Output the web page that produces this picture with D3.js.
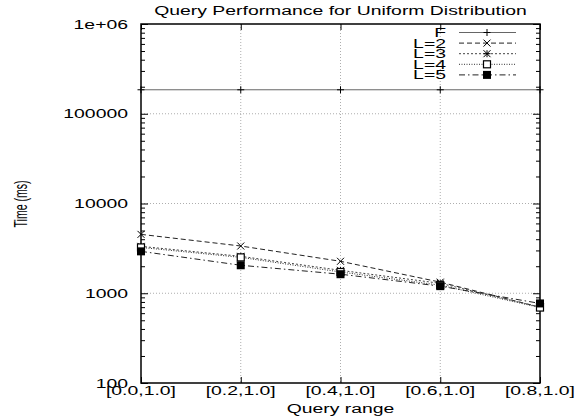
<!DOCTYPE html>
<html><head><meta charset="utf-8">
<script src="https://cdn.jsdelivr.net/npm/d3@7"></script>
<style>body{margin:0;background:#fff}svg{display:block}text{font-family:"Liberation Sans",Arial,sans-serif;fill:#000}</style>
</head><body><svg id="c" width="576" height="419"></svg>
<script>
const categories = ["[0.0,1.0]","[0.2,1.0]","[0.4,1.0]","[0.6,1.0]","[0.8,1.0]"];
const seriesNames = ["F","L=2","L=3","L=4","L=5"];
const valuesF  = [185000,185000,185000,185000,185000];
const valuesL2 = [4530,3360,2270,1330,700];
const valuesL3 = [3330,2580,1800,1290,700];
const valuesL4 = [3240,2510,1725,1230,693];
const valuesL5 = [2930,2050,1630,1200,770];
const yTickValues = [100,1000,10000,100000,1000000];
const yTickLabels = ["100","1000","10000","100000","1e+06"];
const titleText = "Query Performance for Uniform Distribution";
const xLabelText = "Query range";
const yLabelText = "Time (ms)";

const W=576,H=419, m={l:141,r:36,t:24,b:36};
const FS=12.5, SX=1.55;
const svg=d3.select("#c");
const x=d3.scalePoint().domain(categories).range([m.l,W-m.r]);
const y=d3.scaleLog().domain([100,1000000]).range([H-m.b,m.t]);
const cx0=(m.l+W-m.r)/2;
function stretch(sel,f){sel.each(function(){const w=this.getComputedTextLength();d3.select(this).attr("textLength",w*(f||SX)).attr("lengthAdjust","spacingAndGlyphs");});}

// grid
const g=svg.append("g");
g.selectAll("line.gx").data(categories.slice(1,-1)).join("line")
 .attr("x1",d=>x(d)).attr("x2",d=>x(d)).attr("y1",m.t).attr("y2",H-m.b)
 .attr("stroke","#999").attr("stroke-width",0.8).attr("stroke-dasharray","1,2");
g.selectAll("line.gy").data(yTickValues.slice(1,-1)).join("line")
 .attr("x1",m.l).attr("x2",W-m.r).attr("y1",d=>y(d)).attr("y2",d=>y(d))
 .attr("stroke","#999").attr("stroke-width",0.8).attr("stroke-dasharray","1,2");

// ticks
const minor=[];for(let e=2;e<6;e++)for(let k=2;k<10;k++)minor.push(k*Math.pow(10,e));
function yax(side){
  const mk=side==="l"?d3.axisRight:d3.axisLeft;
  const tx=side==="l"?m.l:W-m.r;
  svg.append("g").attr("transform",`translate(${tx},0)`).call(mk(y).tickValues(yTickValues).tickSize(7).tickFormat(""));
  svg.append("g").attr("transform",`translate(${tx},0)`).call(mk(y).tickValues(minor).tickSize(4).tickFormat(""));
}
yax("l");yax("r");
svg.append("g").attr("transform",`translate(0,${H-m.b})`).call(d3.axisTop(x).tickSize(6).tickFormat(""));
svg.append("g").attr("transform",`translate(0,${m.t})`).call(d3.axisBottom(x).tickSize(6).tickFormat(""));
svg.selectAll(".domain").remove();
svg.selectAll(".tick line").attr("stroke","#000").attr("stroke-width",1);

// border
svg.append("rect").attr("x",m.l).attr("y",m.t).attr("width",W-m.l-m.r).attr("height",H-m.t-m.b)
 .attr("fill","none").attr("stroke","#000").attr("stroke-width",1.5);

// tick labels
svg.append("g").selectAll("text").data(yTickValues).join("text")
 .attr("x",128).attr("y",d=>y(d)+4.5).attr("text-anchor","end").attr("font-size",FS)
 .text((d,i)=>yTickLabels[i]).call(stretch);
svg.append("g").selectAll("text").data(categories).join("text")
 .attr("x",d=>x(d)).attr("y",395).attr("text-anchor","middle").attr("font-size",FS)
 .text(d=>d).call(stretch);
svg.append("text").attr("x",cx0).attr("y",413).attr("text-anchor","middle").attr("font-size",FS).text(xLabelText).call(stretch);
svg.append("text").attr("x",cx0).attr("y",15).attr("text-anchor","middle").attr("font-size",FS).text(titleText).call(stretch);
svg.append("text").attr("transform","translate(27,204) rotate(-90)").attr("text-anchor","middle").attr("font-size",18)
 .text(yLabelText).attr("textLength",47).attr("lengthAdjust","spacingAndGlyphs");

// series
const series=[
 {name:seriesNames[0],v:valuesF,stroke:"#666",dash:null,mk:"plus"},
 {name:seriesNames[1],v:valuesL2,stroke:"#222",dash:"5,3",mk:"x"},
 {name:seriesNames[2],v:valuesL3,stroke:"#444",dash:"2,2",mk:"star"},
 {name:seriesNames[3],v:valuesL4,stroke:"#333",dash:"1,1.5",mk:"osq"},
 {name:seriesNames[4],v:valuesL5,stroke:"#222",dash:"6,3,1.5,3",mk:"fsq"}];
const line=d3.line().x((d,i)=>x(categories[i])).y(d=>y(d));
function marker(sel,type,cx,cy){
  const s=3.5;
  if(type==="plus"||type==="star"){
    sel.append("path").attr("d",`M${cx-s},${cy}H${cx+s}M${cx},${cy-s}V${cy+s}`).attr("stroke","#000").attr("stroke-width",1);
  }
  if(type==="x"||type==="star"){
    sel.append("path").attr("d",`M${cx-s},${cy-s}L${cx+s},${cy+s}M${cx-s},${cy+s}L${cx+s},${cy-s}`).attr("stroke","#000").attr("stroke-width",1);
  }
  if(type==="osq") sel.append("rect").attr("x",cx-3.5).attr("y",cy-3.5).attr("width",7).attr("height",7).attr("fill","#fff").attr("stroke","#000").attr("stroke-width",1.2);
  if(type==="fsq") sel.append("rect").attr("x",cx-4).attr("y",cy-4).attr("width",8).attr("height",8).attr("fill","#000");
}
series.forEach(s=>{
  svg.append("path").datum(s.v).attr("d",line).attr("fill","none").attr("stroke",s.stroke)
   .attr("stroke-width",1).attr("stroke-dasharray",s.dash);
});
series.forEach(s=>{
  const gm=svg.append("g");
  s.v.forEach((v,i)=>marker(gm,s.mk,x(categories[i]),y(v)));
});

// legend
const lg=svg.append("g");
series.forEach((s,i)=>{
  const yy=32.5+i*10.6;
  lg.append("text").attr("x",446).attr("y",yy+4.5).attr("text-anchor","end").attr("font-size",FS).text(s.name).call(stretch);
  lg.append("line").attr("x1",459).attr("x2",516).attr("y1",yy).attr("y2",yy).attr("stroke",s.stroke).attr("stroke-width",1).attr("stroke-dasharray",s.dash);
  marker(lg,s.mk,487,yy);
});
</script></body></html>
